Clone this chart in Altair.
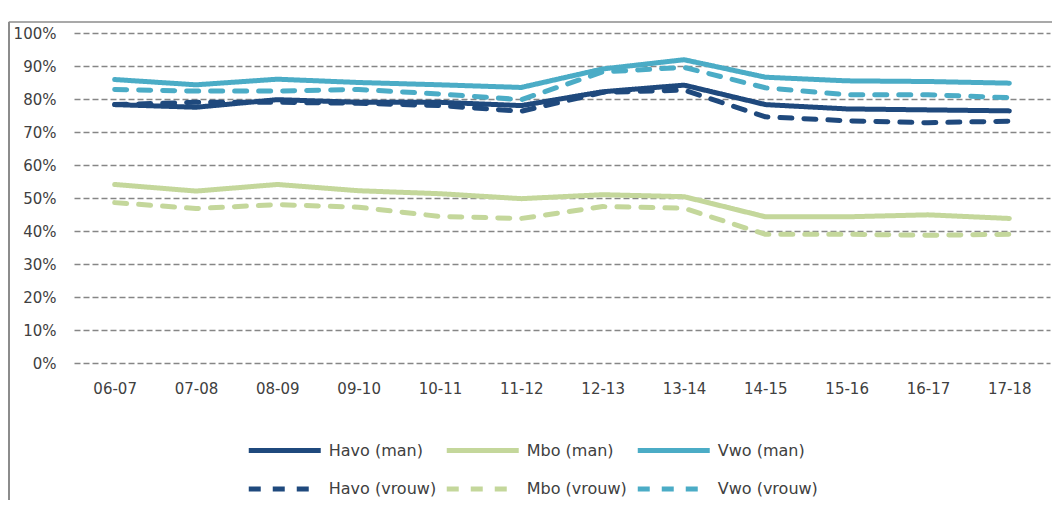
import altair as alt
import pandas as pd

years = ["06-07", "07-08", "08-09", "09-10", "10-11", "11-12",
         "12-13", "13-14", "14-15", "15-16", "16-17", "17-18"]

havo_man = [78.3, 77.5, 79.8, 79.0, 79.0, 78.0, 82.2, 84.2, 78.3, 77.0, 76.7, 76.4]
mbo_man = [54.1, 52.1, 54.1, 52.2, 51.3, 49.8, 51.0, 50.4, 44.3, 44.3, 44.9, 43.8]
vwo_man = [85.9, 84.3, 86.0, 85.0, 84.3, 83.5, 89.1, 91.9, 86.6, 85.5, 85.3, 84.8]
havo_vrouw = [78.3, 79.0, 79.0, 78.7, 78.0, 76.3, 82.0, 82.7, 74.6, 73.4, 72.8, 73.3]
mbo_vrouw = [48.6, 46.8, 48.0, 47.2, 44.4, 43.8, 47.4, 46.9, 39.0, 39.0, 38.7, 39.0]
vwo_vrouw = [82.9, 82.4, 82.4, 82.9, 81.5, 79.8, 88.2, 89.6, 83.4, 81.3, 81.3, 80.4]

series_names = ["Havo (man)", "Mbo (man)", "Vwo (man)",
                "Havo (vrouw)", "Mbo (vrouw)", "Vwo (vrouw)"]
series_values = [havo_man, mbo_man, vwo_man, havo_vrouw, mbo_vrouw, vwo_vrouw]
colors = ["#1F497D", "#C4D79B", "#4BACC6", "#1F497D", "#C4D79B", "#4BACC6"]
dashes = [[1, 0], [1, 0], [1, 0], [12, 12], [12, 12], [12, 12]]

rows = []
for name, vals in zip(series_names, series_values):
    for i, (yr, v) in enumerate(zip(years, vals)):
        rows.append({"series": name, "year": yr, "value": v, "order": i})
df = pd.DataFrame(rows)

FONT = "DejaVu Sans"
TXT = "#404040"

lines = alt.Chart(df).mark_line(
    strokeWidth=5, strokeCap="round", strokeJoin="round"
).encode(
    x=alt.X("year:N", sort=years, title=None,
            scale=alt.Scale(type="point", padding=0.5),
            axis=alt.Axis(domain=False, ticks=False, grid=False,
                          labelFont=FONT, labelFontSize=15, labelColor=TXT,
                          labelPadding=18, labelAngle=0)),
    y=alt.Y("value:Q", title=None,
            scale=alt.Scale(domain=[0, 100]),
            axis=alt.Axis(values=list(range(0, 101, 10)),
                          labelExpr="datum.value + '%'",
                          domain=False, ticks=False, grid=True,
                          gridColor="#868686", gridDash=[6, 3], gridWidth=1.5,
                          labelFont=FONT, labelFontSize=15, labelColor=TXT,
                          labelPadding=18)),
    color=alt.Color("series:N",
                    scale=alt.Scale(domain=series_names, range=colors),
                    legend=alt.Legend(title=None)),
    strokeDash=alt.StrokeDash("series:N",
                              scale=alt.Scale(domain=series_names, range=dashes),
                              legend=alt.Legend(title=None)),
    order="order:Q",
)

one = pd.DataFrame({"k": [0]})
frame_top = alt.Chart(one).mark_rule(color="#8c8c8c", strokeWidth=1.5).encode(
    x=alt.value(-65.25), x2=alt.value(990), y=alt.value(-11)
)
frame_left = alt.Chart(one).mark_rule(color="#8c8c8c", strokeWidth=2).encode(
    x=alt.value(-65), y=alt.value(-11), y2=alt.value(470)
)

chart = alt.layer(lines, frame_top, frame_left).properties(
    width=976, height=330,
    autosize=alt.AutoSizeParams(type="none"),
    padding={"left": 66, "top": 25, "right": 2, "bottom": 137},
).configure_view(stroke=None).configure_legend(
    orient="none", legendX=166.75, legendY=409.5, direction="horizontal",
    columns=3, symbolType="M0,0H72", symbolSize=4, symbolStrokeWidth=5,
    labelOffset=72, columnPadding=0, rowPadding=18.5,
    labelFont=FONT, labelFontSize=16, labelColor=TXT, padding=0,
)

chart.save("out.html", embed_options={"renderer": "svg", "actions": False})
